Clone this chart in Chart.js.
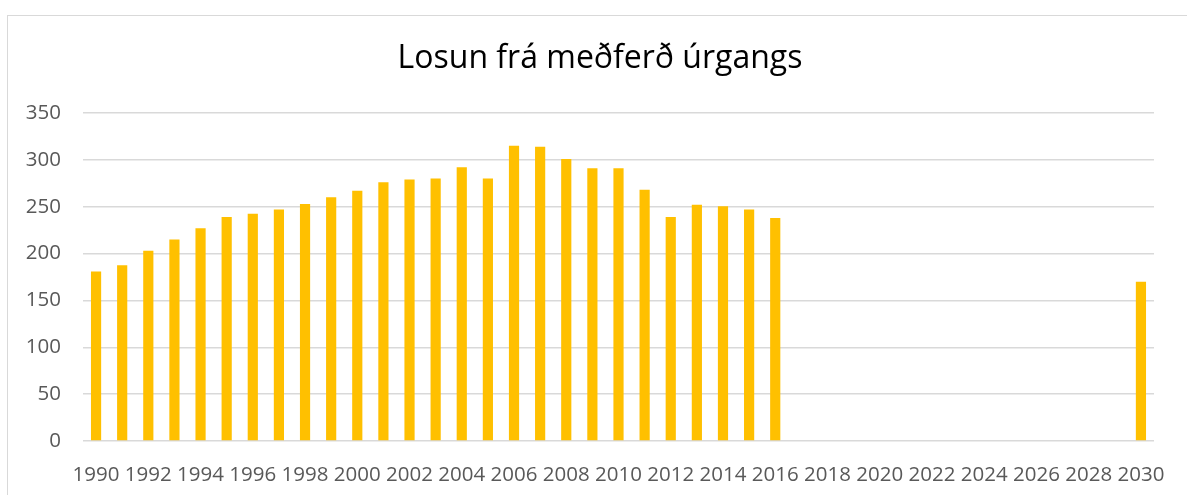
<!DOCTYPE html>
<html>
<head>
<meta charset="utf-8">
<script src="https://cdn.jsdelivr.net/npm/chart.js@4/dist/chart.umd.min.js"></script>
<style>
  html, body { margin: 0; padding: 0; background: #fff; overflow: hidden; }
  #frame { position: absolute; left: 7px; top: 15px; width: 1400px; height: 700px; border: 1px solid #d9d9d9; box-sizing: border-box; }
  #wrap { position: absolute; left: 0; top: 0; width: 1187px; height: 495px; }
</style>
</head>
<body>
<div id="frame"></div>
<div id="wrap"><canvas id="c" width="1187" height="495"></canvas></div>
<script>
const years = [];
for (let y = 1990; y <= 2030; y++) years.push(String(y));
const emissions = [
  181, 187.5, 203, 215, 227, 239, 242.5, 247, 253, 260,
  267, 276, 279, 280, 292, 280, 315, 314, 301, 291,
  291, 268, 239, 252, 250.5, 247, 238,
  null, null, null, null, null, null, null, null, null, null, null, null, null,
  170
];
const yTicks = [0, 50, 100, 150, 200, 250, 300, 350];
const titleText = 'Losun frá meðferð úrgangs';

const titlePlugin = {
  id: 'centeredTitle',
  afterDraw(chart) {
    const ctx = chart.ctx;
    ctx.save();
    ctx.font = 'normal 32px "Open Sans"';
    ctx.fillStyle = '#000000';
    ctx.textAlign = 'center';
    ctx.textBaseline = 'middle';
    ctx.fillText(titleText, 600, 59);
    ctx.restore();
  }
};

new Chart(document.getElementById('c'), {
  type: 'bar',
  data: {
    labels: years,
    datasets: [{
      data: emissions,
      backgroundColor: '#FFC000',
      borderWidth: 0,
      categoryPercentage: 1,
      barPercentage: 0.39
    }]
  },
  options: {
    responsive: false,
    animation: false,
    devicePixelRatio: 1,
    layout: { padding: { left: 0, right: 33, top: 113, bottom: 0 } },
    plugins: {
      legend: { display: false },
      tooltip: { enabled: false },
      title: { display: false }
    },
    scales: {
      x: {
        grid: { display: false, drawTicks: false },
        border: { display: false },
        ticks: {
          autoSkip: false,
          maxRotation: 0,
          minRotation: 0,
          padding: 22,
          color: '#595959',
          font: { family: 'Open Sans', size: 20.5 },
          callback: function(v, i) { return i % 2 === 0 ? years[i] : ''; }
        },
        afterFit: function(s) { s.height = 54; }
      },
      y: {
        min: 0,
        max: 350,
        afterBuildTicks: function(s) { s.ticks = yTicks.map(v => ({ value: v })); },
        grid: { color: '#d9d9d9', lineWidth: 1.4, drawTicks: false },
        border: { display: false },
        ticks: {
          padding: 22,
          color: '#595959',
          font: { family: 'Open Sans', size: 20.5 }
        },
        afterFit: function(s) { s.width = 83; }
      }
    }
  },
  plugins: [titlePlugin]
});
</script>
</body>
</html>
